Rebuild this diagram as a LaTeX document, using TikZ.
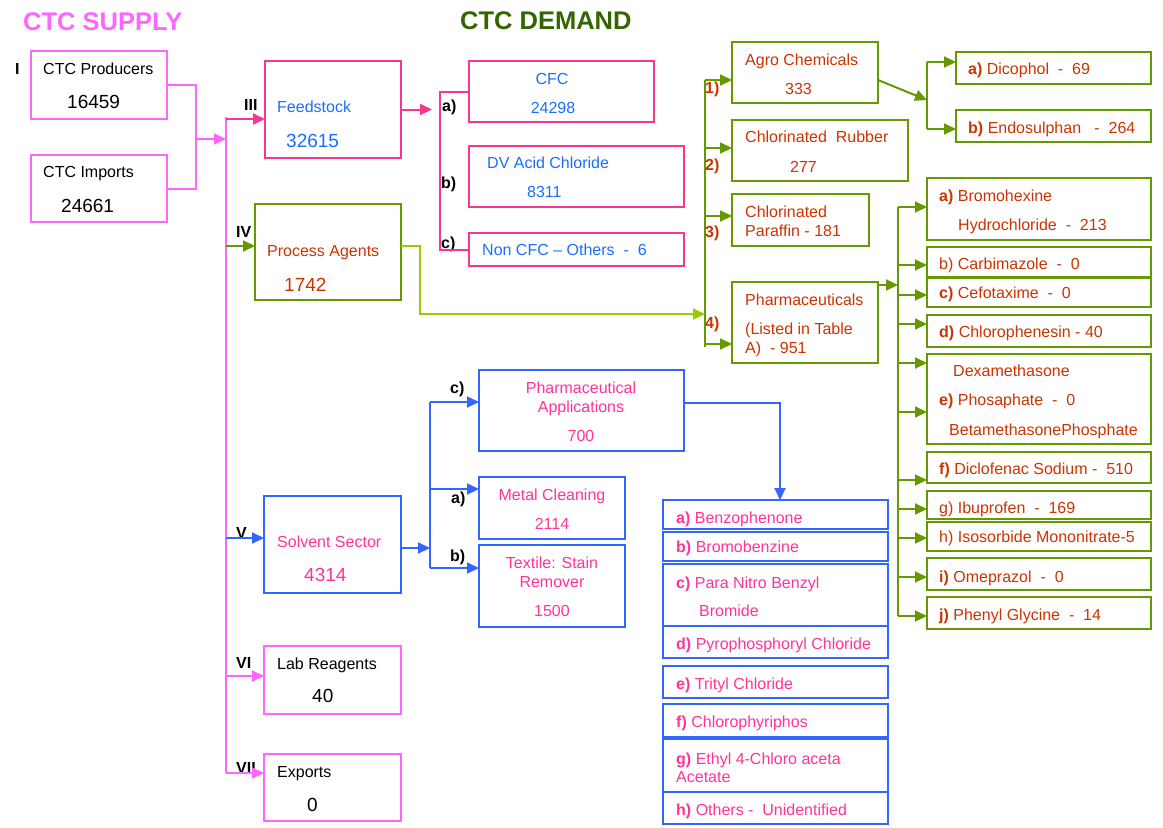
\documentclass[tikz,border=0pt]{standalone}
\usepackage{fontspec}
\setmainfont{Liberation Sans}
\usetikzlibrary{arrows.meta}

% Couleurs
\definecolor{offre}{RGB}{255,102,255}
\definecolor{charge}{RGB}{245,55,145}
\definecolor{bleutxt}{RGB}{25,110,255}
\definecolor{vert}{RGB}{102,153,0}
\definecolor{vertclair}{RGB}{153,204,0}
\definecolor{rouille}{RGB}{204,51,0}
\definecolor{vertfonce}{RGB}{51,102,0}
\definecolor{bleu}{RGB}{51,102,255}
\definecolor{rose}{RGB}{255,51,153}

\begin{document}
\begin{tikzpicture}[x=1pt, y=-1pt,
  cadre/.style={draw, line width=1.8pt, inner sep=0pt, outer sep=0pt, anchor=north west},
  txt/.style={anchor=base west, inner sep=0pt, font=\fontsize{16}{19}\selectfont},
  txtc/.style={txt, anchor=base},
  gros/.style={txt, font=\fontsize{19}{22}\selectfont},
  rom/.style={anchor=base west, inner sep=0pt, font=\bfseries\fontsize{16}{19}\selectfont},
  titre/.style={anchor=base west, inner sep=0pt, font=\bfseries\fontsize{25.5}{30}\selectfont},
  trait/.style={line width=2pt},
  fleche/.style={trait, -{Triangle[length=12pt,width=11pt]}}]

  \useasboundingbox (0,0) rectangle (1163,828);

  % Titres
  \node[titre, offre] (toffre) at (23,30) {CTC SUPPLY};
  \node[titre, vertfonce] (tdemande) at (460,29) {CTC DEMAND};

  % Offre
  \node[cadre, offre, minimum width=136pt, minimum height=68pt] (prod) at (31,51) {};
  \node[cadre, offre, minimum width=136pt, minimum height=67pt] (imp) at (31,155) {};
  \node[rom] (rI) at (15,74) {I};
  \node[txt] (tprod) at (43,74.5) {CTC Producers};
  \node[gros] (nprod) at (67,108.5) {16459};
  \node[txt] (timp) at (43,177.5) {CTC Imports};
  \node[gros] (nimp) at (61,212) {24661};

  \coordinate (jsup) at (196,139);
  \coordinate (entree) at (226,139);
  \draw[trait, offre] (prod.east) -| (jsup) |- (imp.east);
  \draw[fleche, offre] (jsup) -- (entree);

  % Bus principal
  \coordinate (bushaut) at (226,117);
  \coordinate (busbas) at (226,773);
  \draw[trait, offre] (bushaut) -- (busbas);

  % III Feedstock
  \node[cadre, charge, minimum width=136pt, minimum height=97pt] (feed) at (265,61) {};
  \node[rom] (rIII) at (244,110) {III};
  \node[txt, bleutxt] (tfeed) at (277,112.5) {Feedstock};
  \node[gros, bleutxt] (nfeed) at (286,147) {32615};
  \draw[fleche, charge] (bushaut |- 0,119) -- (feed.west |- 0,119);

  % IV Process Agents
  \node[cadre, vert, minimum width=146pt, minimum height=96pt] (pa) at (255,204) {};
  \node[rom] (rIV) at (236,237) {IV};
  \node[txt, rouille] (tpa) at (267,256.5) {Process Agents};
  \node[gros, rouille] (npa) at (284,291) {1742};
  \draw[fleche, vert] (bushaut |- 0,246) -- (pa.west |- 0,246);

  % V Solvent Sector
  \node[cadre, bleu, minimum width=137pt, minimum height=97pt] (solv) at (264,496) {};
  \node[rom] (rV) at (236,538) {V};
  \node[txt, rose] (tsolv) at (277,547.5) {Solvent Sector};
  \node[gros, rose] (nsolv) at (304,581) {4314};
  \draw[fleche, bleu] (bushaut |- 0,538) -- (solv.west |- 0,538);

  % VI Lab Reagents
  \node[cadre, offre, minimum width=137pt, minimum height=68pt] (lab) at (264,646) {};
  \node[rom] (rVI) at (236,668) {VI};
  \node[txt] (tlab) at (277,669.5) {Lab Reagents};
  \node[gros] (nlab) at (312,702) {40};
  \draw[fleche, offre] (bushaut |- 0,676) -- (lab.west |- 0,676);

  % VII Exports
  \node[cadre, offre, minimum width=137pt, minimum height=67pt] (exp) at (264,754) {};
  \node[rom] (rVII) at (236,773) {VII};
  \node[txt] (texp) at (277,777.5) {Exports};
  \node[gros] (nexp) at (307,811) {0};
  \draw[fleche, offre] (busbas) -- (exp.west |- busbas);

  % Feedstock : sous-postes
  \node[cadre, charge, minimum width=185pt, minimum height=61pt] (cfc) at (469,61) {};
  \node[cadre, charge, minimum width=215pt, minimum height=61pt] (dv) at (469,146) {};
  \node[cadre, charge, minimum width=215pt, minimum height=33pt] (ncfc) at (469,233) {};
  \node[txtc, bleutxt] (tcfc) at (552,84) {CFC};
  \node[txtc, bleutxt] (ncfcv) at (553,113) {24298};
  \node[txt, bleutxt] (tdv) at (487,168) {DV Acid Chloride};
  \node[txt, bleutxt] (ndv) at (527,197) {8311};
  \node[txt, bleutxt] (tncfc) at (482,255) {Non CFC – Others~~-~~6};
  \node[rom] (fa) at (442,111) {a)};
  \node[rom] (fb) at (441,188) {b)};
  \node[rom] (fc) at (441,248) {c)};
  \coordinate (fpt) at (432,109.5);
  \coordinate (fbus) at (440,170);
  \draw[fleche, charge] (feed.east) -- (fpt);
  \draw[trait, charge] (cfc.west) -| (fbus) |- (ncfc.west);

  % Demande : bus vert
  \coordinate (dhaut) at (705,80);
  \coordinate (dbas) at (705,347);
  \coordinate (pcoude) at (420,314);
  \draw[trait, vert] (dhaut) -- (dbas);
  \draw[fleche, vertclair] ([yshift=6pt]pa.east) -| (pcoude) -- (pcoude -| dhaut);

  \node[cadre, vert, minimum width=146pt, minimum height=61pt] (agro) at (732,42) {};
  \node[cadre, vert, minimum width=176pt, minimum height=61pt] (rub) at (732,120) {};
  \node[cadre, vert, minimum width=137pt, minimum height=52pt] (par) at (732,194) {};
  \node[cadre, vert, minimum width=146pt, minimum height=81pt] (phar) at (732,282) {};
  \foreach \y/\b in {80/agro,148/rub,216/par,344/phar}
    \draw[fleche, vert] (dhaut |- 0,\y) -- (\b.west |- 0,\y);

  \node[rom, rouille] (d1) at (705,93) {1)};
  \node[rom, rouille] (d2) at (705,170) {2)};
  \node[rom, rouille] (d3) at (705,237) {3)};
  \node[rom, rouille] (d4) at (705,328) {4)};
  \node[txt, rouille] (tagro) at (745,65) {Agro Chemicals};
  \node[txt, rouille] (nagro) at (785,94) {333};
  \node[txt, rouille] (trub) at (745,142) {Chlorinated~~Rubber};
  \node[txt, rouille] (nrub) at (790,172) {277};
  \node[txt, rouille] (tpar) at (745,217) {Chlorinated};
  \node[txt, rouille] (npar) at (745,236) {Paraffin - 181};
  \node[txt, rouille] (tphar) at (745,305) {Pharmaceuticals};
  \node[txt, rouille] (tphar2) at (745,334) {(Listed in Table};
  \node[txt, rouille] (nphar) at (745,353) {A)~~- 951};

  % Agro Chemicals
  \node[cadre, vert, minimum width=195pt, minimum height=32pt] (dic) at (956,52) {};
  \node[cadre, vert, minimum width=195pt, minimum height=32pt] (endo) at (956,110) {};
  \node[txt, rouille] (tdic) at (968,74) {\textbf{a)} Dicophol~~-~~69};
  \node[txt, rouille] (tendo) at (968,133) {\textbf{b)} Endosulphan~~~-~~264};
  \coordinate (abus) at (927,100);
  \draw[fleche, vert] ([yshift=-7.5pt]agro.east) -- (abus);
  \draw[trait, vert] (abus |- 0,62) -- (abus |- 0,129);
  \draw[fleche, vert] (abus |- 0,62) -- (dic.west |- 0,62);
  \draw[fleche, vert] (abus |- 0,129) -- (endo.west |- 0,129);

  % Pharmaceuticals (liste)
  \foreach \n/\ya/\h in {a/178/62,b/247/30,c/278/29,d/315/32,e/354/90,f/452/31,g/491/28,h/522/29,i/558/32,j/597/32}
    \node[cadre, vert, minimum width=224pt, minimum height=\h pt] (l\n) at (927,\ya) {};
  \coordinate (lbus) at (898,285);
  \draw[fleche, vert] (phar.east |- lbus) -- (lbus);
  \draw[trait, vert] (lbus |- 0,207) -- (lbus |- 0,616);
  \foreach \y in {207,265,295,324,363,412,480,509,538,577,616}
    \draw[fleche, vert] (lbus |- 0,\y) -- (la.west |- 0,\y);

  \node[txt, rouille] (tla) at (939,201) {\textbf{a)} Bromohexine};
  \node[txt, rouille] (tla2) at (958,230) {Hydrochloride~~-~~213};
  \node[txt, rouille] (tlb) at (939,269) {b) Carbimazole~~-~~0};
  \node[txt, rouille] (tlc) at (939,298) {\textbf{c)} Cefotaxime~~-~~0};
  \node[txt, rouille] (tld) at (939,337) {\textbf{d)} Chlorophenesin - 40};
  \node[txt, rouille] (tle1) at (953,376) {Dexamethasone};
  \node[txt, rouille] (tle) at (939,405) {\textbf{e)} Phosaphate~~-~~0};
  \node[txt, rouille] (tle2) at (949,435) {BetamethasonePhosphate};
  \node[txt, rouille] (tlf) at (939,474) {\textbf{f)} Diclofenac Sodium -~~510};
  \node[txt, rouille] (tlg) at (939,513) {g) Ibuprofen~~-~~169};
  \node[txt, rouille] (tlh) at (939,542) {h) Isosorbide Mononitrate-5};
  \node[txt, rouille] (tli) at (939,582) {\textbf{i)} Omeprazol~~-~~0};
  \node[txt, rouille] (tlj) at (939,620) {\textbf{j)} Phenyl Glycine~~-~~14};

  % Solvent Sector
  \node[cadre, bleu, minimum width=205pt, minimum height=81pt] (papp) at (479,370) {};
  \node[cadre, bleu, minimum width=146pt, minimum height=62pt] (metal) at (479,477) {};
  \node[cadre, bleu, minimum width=146pt, minimum height=82pt] (textb) at (479,545) {};
  \node[txtc, rose] (tpapp) at (581,393) {Pharmaceutical};
  \node[txtc, rose] (tpapp2) at (581,412) {Applications};
  \node[txtc, rose] (npapp) at (581,441) {700};
  \node[txtc, rose] (tmetal) at (552,500) {Metal Cleaning};
  \node[txtc, rose] (nmetal) at (552,529) {2114};
  \node[txtc, rose] (ttext) at (552,568) {Textile: Stain};
  \node[txtc, rose] (ttext2) at (552,587) {Remover};
  \node[txtc, rose] (ntext) at (552,616) {1500};
  \node[rom] (sc) at (450,393) {c)};
  \node[rom] (sa) at (451,503) {a)};
  \node[rom] (sb) at (450,561) {b)};
  \coordinate (sbus) at (430,548);
  \draw[fleche, bleu] (solv.east |- sbus) -- (sbus);
  \draw[trait, bleu] (sbus |- 0,402) -- (sbus |- 0,568);
  \draw[fleche, bleu] (sbus |- 0,402) -- (papp.west |- 0,402);
  \draw[fleche, bleu] (sbus |- 0,489) -- (metal.west |- 0,489);
  \draw[fleche, bleu] (sbus |- 0,568) -- (textb.west |- 0,568);

  % Pharmaceutical Applications (liste)
  \foreach \n/\ya/\h in {1/500/29,2/532/29,3/564/62,4/626/32,5/666/32,6/704/33,7/739/53,8/792/32}
    \node[cadre, bleu, minimum width=225pt, minimum height=\h pt] (s\n) at (663,\ya) {};
  \draw[fleche, bleu] (papp.east |- 0,403) -| ([xshift=4.5pt]s1.north);

  \node[txt, rose] (ts1) at (676,523) {\textbf{a)} Benzophenone};
  \node[txt, rose] (ts2) at (676,552) {\textbf{b)} Bromobenzine};
  \node[txt, rose] (ts3) at (676,588) {\textbf{c)} Para Nitro Benzyl};
  \node[txt, rose] (ts3b) at (699,616) {Bromide};
  \node[txt, rose] (ts4) at (676,649) {\textbf{d)} Pyrophosphoryl Chloride};
  \node[txt, rose] (ts5) at (676,689) {\textbf{e)} Trityl Chloride};
  \node[txt, rose] (ts6) at (676,727) {\textbf{f)} Chlorophyriphos};
  \node[txt, rose] (ts7) at (676,764) {\textbf{g)} Ethyl 4-Chloro aceta};
  \node[txt, rose] (ts7b) at (676,782) {Acetate};
  \node[txt, rose] (ts8) at (676,815) {\textbf{h)} Others -~~Unidentified};

\end{tikzpicture}
\end{document}
